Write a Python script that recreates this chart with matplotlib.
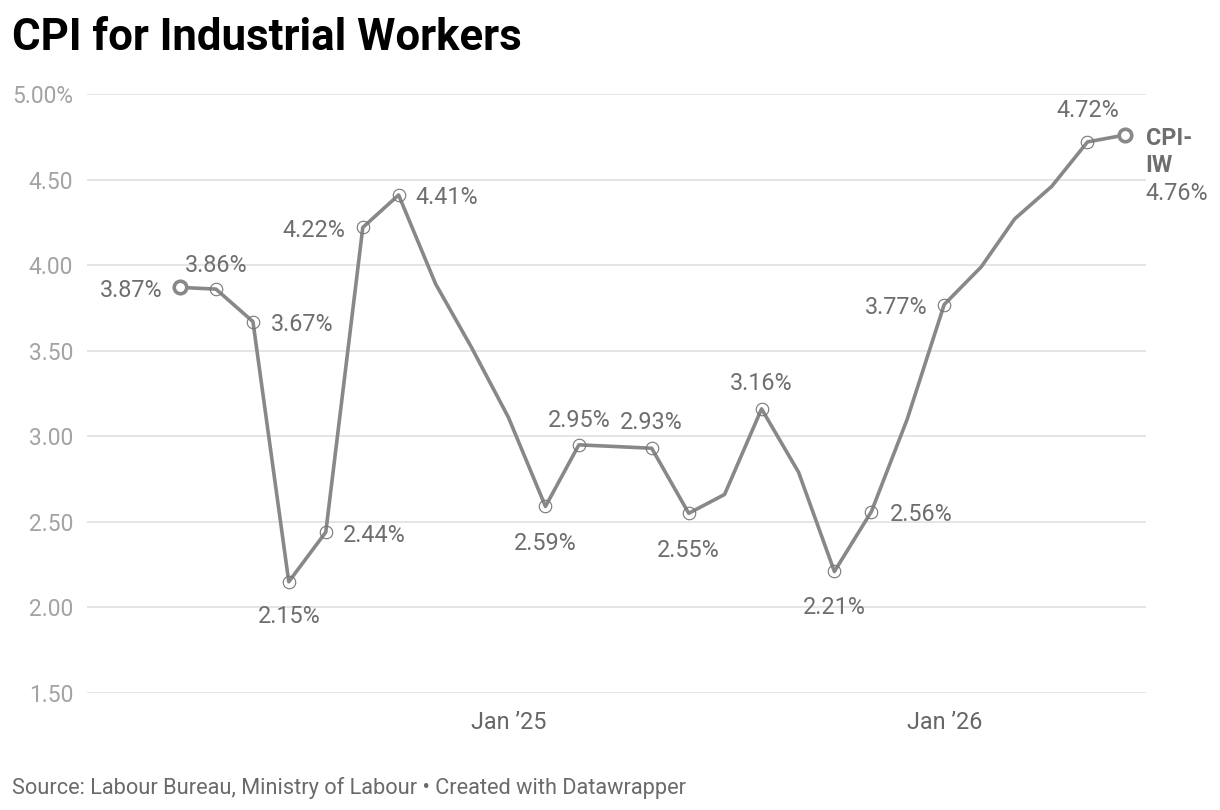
import matplotlib
matplotlib.use("Agg")
import matplotlib.pyplot as plt
import numpy as np
import pandas as pd

plt.rcParams['font.family'] = ['Roboto', 'DejaVu Sans']

# monthly CPI-IW inflation, Apr 2024 .. Jun 2026
months = pd.date_range("2024-04-01", "2026-06-01", freq="MS")
values = [3.87, 3.86, 3.67, 2.15, 2.44, 4.22, 4.41, 3.89, 3.52, 3.11,
          2.59, 2.95, 2.94, 2.93, 2.55, 2.66, 3.16, 2.79, 2.21, 2.56,
          3.10, 3.77, 3.99, 4.27, 4.46, 4.72, 4.76]

# which points carry a label, and where it goes (dx, dy in pixels, ha)
label_pos = {
    0: (-18, 0, "right"),
    1: (0, 27, "center"),
    2: (18, 0, "left"),
    3: (0, -32, "center"),
    4: (17, 0, "left"),
    5: (-17, 0, "right"),
    6: (17, 0, "left"),
    10: (0, -34, "center"),
    11: (0, 27, "center"),
    13: (0, 29, "center"),
    14: (0, -34, "center"),
    16: (0, 28, "center"),
    18: (0, -33, "center"),
    19: (18, 0, "left"),
    21: (-17, 0, "right"),
    25: (0, 34, "center"),
}

yticks = [1.5, 2.0, 2.5, 3.0, 3.5, 4.0, 4.5, 5.0]
ytick_labels = ["1.50", "2.00", "2.50", "3.00", "3.50", "4.00", "4.50", "5.00%"]
xticks = [pd.Timestamp("2025-01-01"), pd.Timestamp("2026-01-01")]
xtick_labels = ["Jan \u201925", "Jan \u201926"]

line_col = "#888888"
text_col = "#6e6e6e"
lab_size = 16.8
nudge = -3  # text sits a bit low vs matplotlib's centre

fig = plt.figure(figsize=(12.2, 8.1), dpi=100)
ax = fig.add_axes([87 / 1220, 1 - 693 / 810, (1146 - 87) / 1220, (693 - 94) / 810])

ax.plot(months, values, color=line_col, lw=2.6, solid_joinstyle="round", zorder=3)

idx = sorted(label_pos)
ax.plot(months[idx], [values[i] for i in idx], ls="none", marker="o", ms=9,
        mfc="none", mec="#777777", mew=0.8, zorder=4)
ax.plot(months[[0, -1]], [values[0], values[-1]], ls="none", marker="o", ms=9,
        mfc="white", mec=line_col, mew=2.6, zorder=5)

for i, (dx, dy, ha) in label_pos.items():
    ax.annotate(f"{values[i]:.2f}%", (months[i], values[i]), xytext=(dx, dy + nudge),
                textcoords="offset pixels", ha=ha, va="center",
                fontsize=lab_size, color=text_col, zorder=6)

# series label at the end
for txt, dy, fw in [("CPI-", 0, "bold"), ("IW", -27, "bold"),
                    (f"{values[-1]:.2f}%", -55, "normal")]:
    ax.annotate(txt, (months[-1], values[-1]), xytext=(21, dy + nudge),
                textcoords="offset pixels", ha="left", va="center",
                fontsize=lab_size, fontweight=fw, color=text_col,
                annotation_clip=False)

ax.set_ylim(1.5, 5.0)
ax.set_xlim(pd.Timestamp("2024-01-14"), pd.Timestamp("2026-06-19"))
ax.set_yticks(yticks)
ax.set_yticklabels(ytick_labels)
ax.set_xticks(xticks)
ax.set_xticklabels(xtick_labels)
ax.grid(axis="y", color="#e3e3e3", lw=1.3, zorder=0)
ax.tick_params(axis="y", length=0, pad=10, labelsize=16.4, labelcolor="#a3a3a3")
ax.tick_params(axis="x", length=0, pad=13, labelsize=16.8, labelcolor="#666666")
for s in ax.spines.values():
    s.set_visible(False)

fig.text(12 / 1220, 1 - 50 / 810, "CPI for Industrial Workers", fontsize=31.5,
         fontweight="bold", color="black", va="baseline", ha="left")
fig.text(12 / 1220, 1 - 794 / 810,
         "Source: Labour Bureau, Ministry of Labour \u2022 Created with Datawrapper",
         fontsize=15.7, color="#6a6a6a", va="baseline", ha="left")

fig.savefig("out.png", dpi=100)
